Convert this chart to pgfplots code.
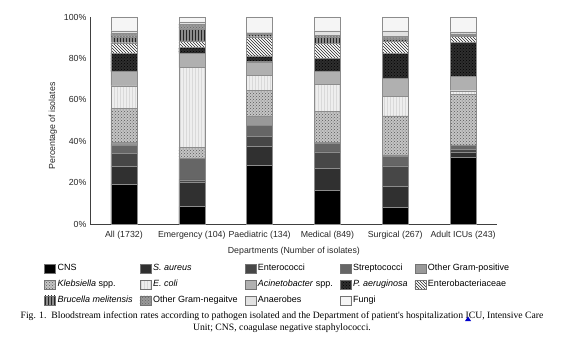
\documentclass[border=0pt]{standalone}
\usepackage{fontspec}
\setmainfont{Liberation Sans}
\newfontfamily\capfont{Liberation Serif}
\usepackage{pgfplots}
\usepackage{pgfplotstable}
\pgfplotsset{compat=1.18}
\usetikzlibrary{patterns}
\definecolor{cSA}{HTML}{303030}
\definecolor{cEnt}{HTML}{474747}
\definecolor{cStr}{HTML}{666666}
\definecolor{cOGP}{HTML}{999999}
\definecolor{cKl}{HTML}{C4C4C4}
\definecolor{cEc}{HTML}{EEEEEE}
\definecolor{cAc}{HTML}{B0B0B0}
\definecolor{cPa}{HTML}{2E2E2E}
\definecolor{cBr}{HTML}{8C8C8C}
\definecolor{cOGN}{HTML}{9A9A9A}
\definecolor{cAn}{HTML}{E2E2E2}
\definecolor{cFu}{HTML}{F5F5F5}
\pgfplotstableread{
x CNS SA Ent Strep OGP Kleb Ecoli Acin Pa Entb Bru OGN Anae Fungi
0 19.3 8.7 6.1 4.1 1.1 16.6 10.8 6.9 8.8 5.2 2.9 1.6 1.3 6.6
1 8.5 11.5 1.3 10.3 0.0 5.3 38.7 6.7 2.9 3.3 5.4 2.6 1.1 2.4
2 28.5 8.9 4.8 5.6 4.1 12.8 7.0 6.7 2.8 9.3 1.2 0.7 0.0 7.6
3 16.4 10.5 8.0 4.1 0.5 14.8 13.3 6.0 6.4 7.3 3.2 0.8 2.1 6.6
4 8.2 9.9 10.0 4.5 0.8 18.8 9.6 8.6 12.0 6.0 1.0 1.2 2.8 6.6
5 32.2 2.7 1.2 2.1 0.0 24.6 1.6 6.8 16.6 2.9 0.5 0.6 1.1 7.1
}\datatable
\begin{document}
\begin{tikzpicture}
\path[use as bounding box] (0,0) rectangle (564pt,359pt);
\begin{axis}[
  at={(90pt,135pt)}, anchor=south west,
  scale only axis, width=407pt, height=207pt,
  ybar stacked, bar width=26pt,
  xmin=-0.5, xmax=5.5, ymin=0, ymax=100,
  axis x line*=bottom, axis y line*=left,
  axis line style={black!75, line width=0.6pt},
  xtick={0,...,5},
  xticklabels={All (1732), Emergency (104), Paediatric (134), Medical (849), Surgical (267), Adult ICUs (243)},
  ytick={0,20,...,100},
  yticklabel={\pgfmathprintnumber{\tick}\%},
  /pgf/number format/assume math mode=true,
  tick style={draw=none},
  tick label style={font=\fontsize{8.8}{10}\selectfont, text=black!85},
  xticklabel style={yshift=-4pt},
  label style={font=\fontsize{8.8}{10}\selectfont, text=black!85},
  xlabel={Departments (Number of isolates)},
  ylabel={Percentage of isolates},
  xlabel style={at={(axis description cs:0.501,-0.13)}, anchor=center},
  ylabel style={at={(axis description cs:-0.091,0.473)}, anchor=center},
  legend columns=5,
  legend cell align=left,
  legend image code/.code={\draw[#1, draw=black!55, line width=0.4pt] (0pt,-4.5pt) rectangle (11pt,4.5pt);},
  legend style={at={(axis description cs:-0.113,-0.184)}, anchor=north west,
    draw=none, fill=none, inner sep=0pt,
    font=\fontsize{9}{10}\selectfont,
    row sep=3.2pt,
    nodes={inner sep=2pt, text height=6.7pt, text depth=2pt},
    /tikz/every even column/.append style={column sep=5pt}},
  every axis plot/.append style={draw=black!45, line width=0.3pt},
]
\addplot[fill=black] table[x=x, y=CNS] {\datatable};
\addlegendentry{CNS}
\addplot[fill=cSA] table[x=x, y=SA] {\datatable};
\addlegendentry{\textit{S. aureus}}
\addplot[fill=cEnt] table[x=x, y=Ent] {\datatable};
\addlegendentry{Enterococci}
\addplot[fill=cStr] table[x=x, y=Strep] {\datatable};
\addlegendentry{Streptococci}
\addplot[fill=cOGP] table[x=x, y=OGP] {\datatable};
\addlegendentry{Other Gram-positive}
\addplot[fill=cKl, postaction={pattern=crosshatch dots, pattern color=black!65}] table[x=x, y=Kleb] {\datatable};
\addlegendentry{\textit{Klebsiella} spp.}
\addplot[fill=cEc, postaction={pattern=vertical lines, pattern color=black!15}] table[x=x, y=Ecoli] {\datatable};
\addlegendentry{\textit{E. coli}}
\addplot[fill=cAc] table[x=x, y=Acin] {\datatable};
\addlegendentry{\textit{Acinetobacter} spp.}
\addplot[fill=cPa, postaction={pattern=crosshatch dots, pattern color=black}] table[x=x, y=Pa] {\datatable};
\addlegendentry{\textit{P. aeruginosa}}
\addplot[fill=white, postaction={pattern=north west lines, pattern color=black!85}] table[x=x, y=Entb] {\datatable};
\addlegendentry{Enterobacteriaceae}
\addplot[fill=cBr, postaction={pattern=vertical lines, pattern color=black!85}] table[x=x, y=Bru] {\datatable};
\addlegendentry{\textit{Brucella melitensis}}
\addplot[fill=cOGN, postaction={pattern=crosshatch dots, pattern color=black!60}] table[x=x, y=OGN] {\datatable};
\addlegendentry{Other Gram-negaitve}
\addplot[fill=cAn] table[x=x, y=Anae] {\datatable};
\addlegendentry{Anaerobes}
\addplot[fill=cFu] table[x=x, y=Fungi] {\datatable};
\addlegendentry{Fungi}
\end{axis}
\node[font=\capfont\fontsize{9.7}{12}\selectfont, anchor=center] at (282pt,43pt)
  {Fig. 1.\ \ Bloodstream infection rates according to pathogen isolated and the Department of patient's hospitalization ICU, Intensive Care};
\node[font=\capfont\fontsize{9.7}{12}\selectfont, anchor=center] at (282pt,31pt)
  {Unit; CNS, coagulase negative staphylococci.};
\fill[blue!80!black] (465pt,38pt) -- (468pt,42.5pt) -- (471pt,38pt) -- cycle;
\end{tikzpicture}
\end{document}
